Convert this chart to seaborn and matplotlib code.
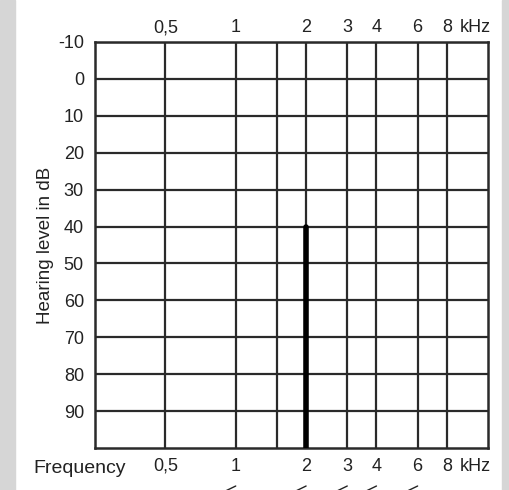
import matplotlib
matplotlib.use('Agg')
import matplotlib.pyplot as plt
import matplotlib.transforms as mtransforms
import seaborn as sns
import pandas as pd

# Audiogram grid
grid_freqs = [0.5, 1, 1.5, 2, 3, 4, 6, 8]
freq_labels = ['0,5', '1', '', '2', '3', '4', '6', '8']
db_levels = [-10, 0, 10, 20, 30, 40, 50, 60, 70, 80, 90]

# Thick marker line at 2 kHz
bar_line = pd.DataFrame({'freq': [2, 2], 'db': [40, 100]})

# Small slanted strokes below the chart (at these frequencies)
stroke_freqs = [1, 2, 3, 4, 6]

sns.set_style('white')
plt.rcParams['font.family'] = ['Liberation Sans', 'DejaVu Sans']

fig = plt.figure(figsize=(5.1, 4.9), dpi=100)
fig.patch.set_facecolor('white')
# gray side strips
fig.patches.append(plt.Rectangle((0, 0), 15 / 510, 1, transform=fig.transFigure,
                                 color='#d6d6d6', zorder=0))
fig.patches.append(plt.Rectangle((502 / 510, 0), 8 / 510, 1, transform=fig.transFigure,
                                 color='#d6d6d6', zorder=0))

ax = fig.add_axes([95 / 510, 42 / 490, 393 / 510, 406 / 490])
ax.set_xscale('log')
ax.set_xlim(0.25, 12)
ax.set_ylim(100, -10)

ax.set_xticks(grid_freqs)
ax.set_xticklabels(freq_labels)
ax.minorticks_off()
ax.set_yticks(db_levels)
ax.set_yticklabels([str(v) for v in db_levels])
ax.grid(True, color='#2a2a2a', linewidth=1.6)
ax.set_axisbelow(True)

for s in ax.spines.values():
    s.set_color('#2a2a2a')
    s.set_linewidth(1.8)

ax.tick_params(axis='x', top=True, labeltop=True, length=0, pad=7,
               labelsize=13, colors='#222222')
ax.tick_params(axis='y', length=0, pad=8, labelsize=13, colors='#222222')

# nudge the top labels a little closer to the grid
shift = mtransforms.ScaledTranslation(0, -4 / 100, fig.dpi_scale_trans)
for t in ax.xaxis.get_major_ticks():
    t.label2.set_transform(t.label2.get_transform() + shift)

sns.lineplot(data=bar_line, x='freq', y='db', ax=ax, color='black',
             linewidth=4, estimator=None, sort=False, zorder=3)

ax.set_xlabel('')
ax.set_ylabel('Hearing level in dB', fontsize=13.5, color='#222222', labelpad=3)

ax.annotate('kHz', xy=(10.6, -10), xytext=(0, 4), textcoords='offset points',
            ha='center', va='bottom', fontsize=13, color='#222222')
ax.annotate('kHz', xy=(10.6, 100), xytext=(0, -7), textcoords='offset points',
            ha='center', va='top', fontsize=13, color='#222222',
            annotation_clip=False)
ax.text(-0.158, -0.029, 'Frequency', transform=ax.transAxes, ha='left',
        va='top', fontsize=14, color='#222222')

for f in stroke_freqs:
    ax.plot([f * 0.88, f], [112, 110.3], color='#222222', linewidth=1,
            clip_on=False)

fig.savefig('out.png', dpi=100)
